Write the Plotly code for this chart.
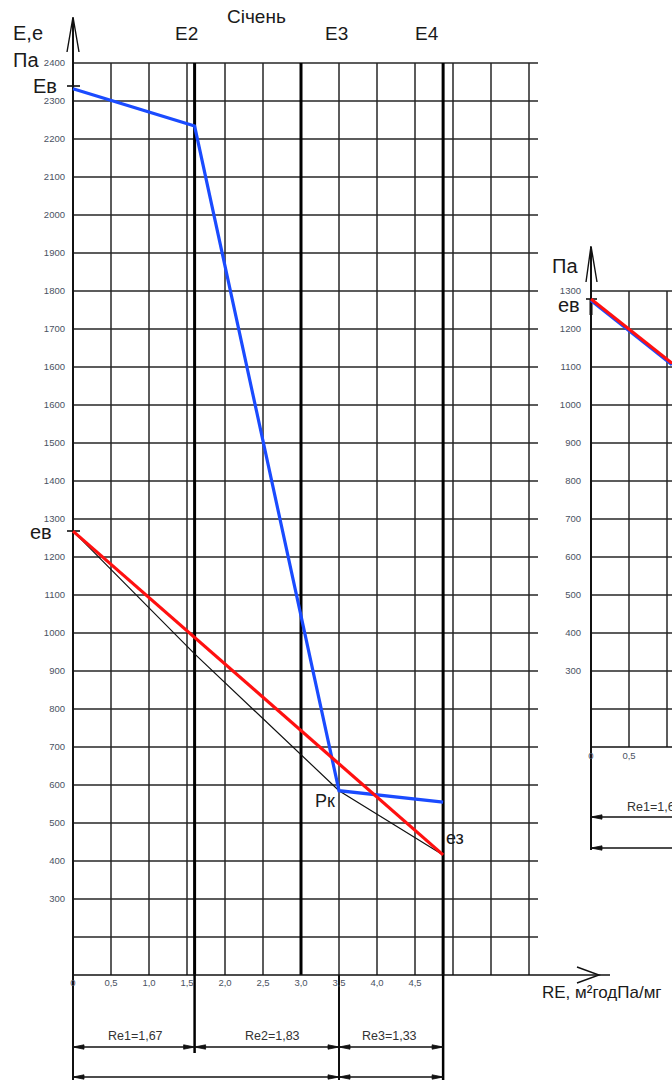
import plotly.graph_objects as go

W, H = 672, 1080

# ---------------- data (x = RE, y = Pa grid position) ----------------
x_ticks = [0, 0.5, 1.0, 1.5, 2.0, 2.5, 3.0, 3.5, 4.0, 4.5]
x_ticktext = ["0", "0,5", "1,0", "1,5", "2,0", "2,5", "3,0", "3,5", "4,0", "4,5"]
y_ticks = [2500, 2400, 2300, 2200, 2100, 2000, 1900, 1800, 1700, 1600, 1500, 1400,
           1300, 1200, 1100, 1000, 900, 800, 700, 600, 500, 400, 300]
y_ticktext = ["2400", "2300", "2200", "2100", "2000", "1900", "1800", "1700", "1600",
              "1600", "1500", "1400", "1300", "1200", "1100", "1000", "900", "800",
              "700", "600", "500", "400", "300"]
grid_x = [0, 0.5, 1.0, 1.5, 2.0, 2.5, 3.0, 3.5, 4.0, 4.5, 5.0, 5.5, 6.0]
grid_y = list(range(200, 2600, 100))
thick_x = [1.6, 3.0, 4.87]
layer_names = ["E2", "E3", "E4"]
layer_x = [1.6, 3.5, 4.87]
re_labels = ["Re1=1,67", "Re2=1,83", "Re3=1,33"]
re_bounds = [0, 1.6, 3.5, 4.87]

blue_x = [0, 1.6, 3.5, 4.87]
blue_y = [2432, 2334, 585, 555]
red_x = [0, 4.87]
red_y = [1268, 416]
black_x = [0, 1.6, 3.5, 4.87]
black_y = [1268, 945, 585, 416]

# right (partial) chart
r_x_ticks = [0, 0.5, 1.0]
r_x_ticktext = ["0", "0,5", "1,0"]
r_y_ticks = [1300, 1200, 1100, 1000, 900, 800, 700, 600, 500, 400, 300]
r_y_ticktext = ["1300", "1200", "1100", "1000", "900", "800", "700", "600", "500", "400", "300"]
r_grid_x = [0, 0.5, 1.0]
r_grid_y = list(range(200, 1400, 100))
r_red_x = [0, 1.066]
r_red_y = [1279, 1110]
r_blue_x = [0, 1.066]
r_blue_y = [1275, 1106]

# ---------------- pixel helpers for decorations ----------------
def X(px):
    return (px - 73) / 76.0

def Y(py):
    return 300 + (899 - py) / 0.38

def X2(px):
    return (px - 591) / 76.0

def Y2(py):
    return 1300 + (291 - py) / 0.38

def PX(px):
    return px / W

def PY(py):
    return 1 - py / H

GRID = "#262626"
shapes = []

def line(x0, y0, x1, y1, w=1.5, c=GRID, xr="x", yr="y"):
    shapes.append(dict(type="line", x0=x0, y0=y0, x1=x1, y1=y1, xref=xr, yref=yr,
                       line=dict(color=c, width=w), layer="below"))

def path(d, xr="x", yr="y", w=1.5):
    shapes.append(dict(type="path", path=d, xref=xr, yref=yr,
                       line=dict(color="#111", width=w),
                       fillcolor="rgba(0,0,0,0)", layer="below"))

def arrowhead(xt, yt, d, xr="x", yr="y"):
    # d = +1 tip points right, -1 tip points left
    L = 11 / 76.0
    hw = 2.2 / 0.38
    shapes.append(dict(type="path", xref=xr, yref=yr, layer="below",
                       path=f"M {xt},{yt} L {xt - d * L},{yt + hw} L {xt - d * L},{yt - hw} Z",
                       fillcolor="#111", line=dict(color="#111", width=0.8)))

# main grid
for gx in grid_x:
    line(gx, 2500, gx, 100)
for gy in grid_y:
    line(0, gy, X(538), gy)
for tx in thick_x:
    line(tx, 2500, tx, 100, w=3, c="#000")
# x axis with arrow
line(0, 100, X(610), 100, w=1.6, c="#111")
path(f"M {X(577)},{Y(967)} L {X(599)},{Y(975)} L {X(577)},{Y(983)}", w=1.4)
# y axis with arrow
line(0, Y(18), 0, Y(1080), w=2, c="#111")
path(f"M {X(67)},{Y(52)} L {X(73)},{Y(17)} L {X(79)},{Y(52)}", w=1.4)
# extension lines for dimensions
line(1.6, 100, 1.6, Y(1053), w=2.5, c="#000")
line(3.5, 100, 3.5, Y(1080), w=2, c="#111")
line(4.87, 100, 4.87, Y(1080), w=2.5, c="#000")
# Ев / ев tick marks
line(X(67), Y(86), X(80), Y(86), w=1.6, c="#111")
line(X(67), Y(531), X(80), Y(531), w=1.6, c="#111")

dim_rows = [Y(1047), Y(1077)]
for i in range(3):
    a, b = re_bounds[i], re_bounds[i + 1]
    line(a, dim_rows[0], b, dim_rows[0], w=1.4, c="#111")
    arrowhead(a, dim_rows[0], -1)
    arrowhead(b, dim_rows[0], 1)
for a, b in [(re_bounds[0], re_bounds[2]), (re_bounds[2], re_bounds[3])]:
    line(a, dim_rows[1], b, dim_rows[1], w=1.4, c="#111")
    arrowhead(a, dim_rows[1], -1)
    arrowhead(b, dim_rows[1], 1)

# right chart grid
for gx in r_grid_x:
    line(gx, 1300, gx, 100, xr="x2", yr="y2")
for gy in r_grid_y:
    line(0, gy, X2(690), gy, xr="x2", yr="y2")
line(0, 100, X2(690), 100, w=1.6, c="#111", xr="x2", yr="y2")
line(0, Y2(247), 0, Y2(850), w=2, c="#111", xr="x2", yr="y2")
path(f"M {X2(586)},{Y2(282)} L {X2(591)},{Y2(246)} L {X2(597)},{Y2(282)}", xr="x2", yr="y2", w=1.4)
line(X2(586), Y2(299), X2(597), Y2(299), w=1.6, c="#111", xr="x2", yr="y2")
line(0, Y2(299), 0, Y2(315), w=3, c="#111", xr="x2", yr="y2")
for ry in [Y2(817), Y2(848)]:
    line(0, ry, X2(690), ry, w=1.4, c="#111", xr="x2", yr="y2")
    shapes.append(dict(type="path", xref="x2", yref="y2", layer="below",
                       path=f"M 0,{ry} L {11/76.0},{ry + 2.2/0.38} L {11/76.0},{ry - 2.2/0.38} Z",
                       fillcolor="#111", line=dict(color="#111", width=0.8)))

# ---------------- traces ----------------
fig = go.Figure()
fig.add_trace(go.Scatter(x=black_x, y=black_y, mode="lines",
                         line=dict(color="#111", width=1.2), xaxis="x", yaxis="y"))
fig.add_trace(go.Scatter(x=blue_x, y=blue_y, mode="lines",
                         line=dict(color="#1a4bff", width=3.2), xaxis="x", yaxis="y"))
fig.add_trace(go.Scatter(x=red_x, y=red_y, mode="lines",
                         line=dict(color="#ff1010", width=3.2), xaxis="x", yaxis="y"))
fig.add_trace(go.Scatter(x=r_blue_x, y=r_blue_y, mode="lines",
                         line=dict(color="#1a4bff", width=3.2), xaxis="x2", yaxis="y2"))
fig.add_trace(go.Scatter(x=r_red_x, y=r_red_y, mode="lines",
                         line=dict(color="#ff1010", width=3), xaxis="x2", yaxis="y2"))

# ---------------- annotations ----------------
TXT = "#1a1a1a"
FONT = "Liberation Sans, Arial, sans-serif"
ann = []

def text(t, px, py, size=19, xanchor="center", color=TXT):
    ann.append(dict(text=t, x=PX(px), y=PY(py), xref="paper", yref="paper",
                    xanchor=xanchor, yanchor="middle", showarrow=False,
                    font=dict(family=FONT, size=size, color=color)))

text("Сiчень", 256, 16, size=19)
text("E,e", 28, 33, size=20)
text("Па", 26, 60, size=20)
layer_px = [186, 336, 427]
for name, lx in zip(layer_names, layer_px):
    text(name, lx, 33, size=19)
text("Ев", 45, 86, size=20)
text("ев", 41, 532, size=20)
text("Рк", 325, 801, size=18)
text("ез", 455, 838, size=18)
text("RE, м²годПа/мг", 602, 992, size=17)
re_px = [135, 272, 389]
for lbl, rx in zip(re_labels, re_px):
    text(lbl, rx, 1036, size=12.5, color="#333")
# right chart
text("Па", 565, 266, size=20)
text("ев", 569, 305, size=20)
text(re_labels[0], 625, 807, size=12.5, xanchor="left", color="#333")

TICKF = dict(family=FONT, size=9.5, color="#4a5262")

fig.update_layout(
    width=W, height=H,
    margin=dict(l=0, r=0, t=0, b=0),
    paper_bgcolor="white", plot_bgcolor="rgba(0,0,0,0)",
    showlegend=False,
    shapes=shapes, annotations=ann,
    xaxis=dict(domain=[0, 1], range=[X(0), X(W)], anchor="free", position=PY(975),
               showgrid=False, zeroline=False, showline=False,
               tickmode="array", tickvals=x_ticks, ticktext=x_ticktext,
               ticks="", tickfont=TICKF, ticklabelstandoff=0),
    yaxis=dict(domain=[0, 1], range=[Y(H), Y(0)], anchor="free", position=PX(73),
               showgrid=False, zeroline=False, showline=False,
               tickmode="array", tickvals=y_ticks, ticktext=y_ticktext,
               ticks="", tickfont=TICKF, ticklabelstandoff=8),
    xaxis2=dict(domain=[PX(540), 1], range=[X2(540), X2(W)], anchor="free", position=PY(748),
                showgrid=False, zeroline=False, showline=False,
                tickmode="array", tickvals=r_x_ticks, ticktext=r_x_ticktext,
                ticks="", tickfont=TICKF, ticklabelstandoff=0),
    yaxis2=dict(domain=[0, 1], range=[Y2(H), Y2(0)], anchor="free", position=PX(591),
                showgrid=False, zeroline=False, showline=False,
                tickmode="array", tickvals=r_y_ticks, ticktext=r_y_ticktext,
                ticks="", tickfont=TICKF, ticklabelstandoff=10),
)

fig.write_html("out.html", config={"displayModeBar": False},
               post_script="document.body.style.margin='0px';document.body.style.overflow='hidden';")
